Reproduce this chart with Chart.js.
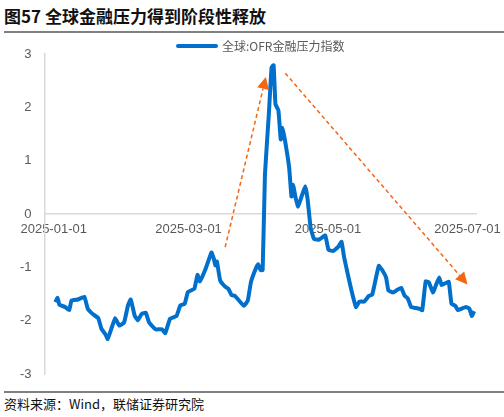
<!DOCTYPE html>
<html><head><meta charset="utf-8">
<script src="https://cdn.jsdelivr.net/npm/chart.js@4"></script>
<style>
body{margin:0;width:504px;height:417px;background:#fff;position:relative;overflow:hidden;font-family:"Noto Sans CJK SC",sans-serif}
#title{position:absolute;left:4px;top:3px;font-size:17px;font-weight:bold;color:#111;letter-spacing:0px}
#l1{position:absolute;left:4px;right:0;top:31px;height:2px;background:#808080}
#l2{position:absolute;left:4px;right:0;top:391px;height:2px;background:#808080}
#src{position:absolute;left:4px;top:394px;font-size:13px;color:#111}
#wrap{position:absolute;left:0;top:34px;width:504px;height:356px}
</style></head><body>
<div id="title">图57 全球金融压力得到阶段性释放</div>
<div id="l1"></div>
<div id="wrap"><canvas id="c"></canvas></div>
<div id="l2"></div>
<div id="src">资料来源：Wind，联储证券研究院</div>
<script>
const seriesName = "全球:OFR金融压力指数";
const days = [0.7,1.7,2.5,5,6.8,7.8,10.6,13.4,14.9,17,19.5,20.9,22.6,23.6,25.2,26.9,28.7,30.8,32.5,33.7,35.4,36.8,38.5,40.3,41.7,43.1,44.6,47.4,48.8,50.9,53.7,55.4,57.3,58.7,61.5,62.9,63.9,66.5,69,70,70.7,71.4,72.8,75,76.4,77.8,79.2,83.2,84.9,86.3,88.4,89.4,90.5,91.4,92.4,94.1,95.3,96.2,97,98.3,99.3,100.1,101.1,103,104,104.7,105.7,106.8,108.2,110,111,112.4,113.9,116,117.4,118.8,120.2,122.3,124.5,125.9,127,128.7,130.4,132.2,133.7,135.8,137.9,139.3,140.3,142.2,144,145.4,146.4,148.5,150.6,152,153.5,154.9,156.3,158.4,159.8,161.2,162.7,164.1,165.9,167.2,168.6,169.7,171.1,172.8,174,175.7,176.8,178.5,180.3,181.8,182.9,183.9];
const values = [-1.65,-1.57,-1.70,-1.74,-1.80,-1.62,-1.60,-1.55,-1.77,-1.87,-1.95,-2.15,-2.25,-2.34,-2.15,-1.95,-2.09,-2.03,-1.71,-1.60,-1.90,-1.99,-1.87,-1.85,-2.03,-2.10,-2.16,-2.16,-2.23,-1.96,-1.91,-1.71,-1.68,-1.46,-1.40,-1.14,-1.26,-1.02,-0.72,-0.83,-0.96,-0.89,-1.24,-1.36,-1.40,-1.52,-1.53,-1.72,-1.62,-1.27,-1.02,-0.94,-1.05,-1.05,0.74,1.87,2.75,2.79,2.06,1.94,1.40,1.62,1.40,0.87,0.33,0.55,0.33,0.14,0.30,0.52,0.30,-0.26,-0.47,-0.48,-0.44,-0.40,-0.67,-0.69,-0.61,-0.52,-0.80,-1.14,-1.46,-1.74,-1.64,-1.64,-1.53,-1.51,-1.33,-0.97,-1.07,-1.19,-1.43,-1.47,-1.41,-1.38,-1.53,-1.58,-1.74,-1.76,-1.77,-1.80,-1.26,-1.28,-1.47,-1.33,-1.19,-1.33,-1.30,-1.27,-1.68,-1.72,-1.80,-1.77,-1.74,-1.77,-1.91,-1.82];
const tickDays = [0,59,120,181];
const tickLabels = ["2025-01-01","2025-03-01","2025-05-01","2025-07-01"];
const arrows = [[75,-0.62,92.8,2.57],[101.3,2.64,181,-1.32]];

const arrowPlugin = {id:'arr', afterDatasetsDraw(ch){
  const {ctx,scales:{x,y}} = ch;
  ctx.save(); ctx.strokeStyle='#F4650F'; ctx.fillStyle='#F4650F'; ctx.lineWidth=1.5;
  arrows.forEach(a=>{
    const x1=x.getPixelForValue(a[0]),y1=y.getPixelForValue(a[1]),x2=x.getPixelForValue(a[2]),y2=y.getPixelForValue(a[3]);
    const ang=Math.atan2(y2-y1,x2-x1), L=12, W=6;
    const bx=x2-L*Math.cos(ang), by=y2-L*Math.sin(ang);
    ctx.setLineDash([4,3]); ctx.beginPath(); ctx.moveTo(x1,y1); ctx.lineTo(bx,by); ctx.stroke();
    ctx.setLineDash([]); ctx.beginPath(); ctx.moveTo(x2,y2);
    ctx.lineTo(bx+W*Math.sin(ang),by-W*Math.cos(ang)); ctx.lineTo(bx-W*Math.sin(ang),by+W*Math.cos(ang)); ctx.closePath(); ctx.fill();
  });
  // legend
  const ds = ch.data.datasets[0];
  ctx.strokeStyle = ds.borderColor; ctx.lineWidth = 4; ctx.lineCap='round';
  ctx.beginPath(); ctx.moveTo(178,12); ctx.lineTo(216,12); ctx.stroke();
  ctx.fillStyle='#595959'; ctx.font='12px "Noto Sans CJK SC"'; ctx.textBaseline='middle';
  ctx.fillText(ds.label,222,12);
  ctx.restore();
}};

new Chart(document.getElementById('c'),{
  type:'line',
  data:{datasets:[{label:seriesName,data:days.map((d,i)=>({x:d,y:values[i]})),borderColor:'#0070CC',backgroundColor:'#0070CC',borderWidth:4,pointRadius:0,tension:0.1}]},
  options:{responsive:true,maintainAspectRatio:false,animation:false,
    layout:{padding:{left:12,right:12,top:20,bottom:12}},
    plugins:{legend:{display:false},tooltip:{enabled:false}},
    scales:{
      x:{type:'linear',min:-4,max:185,position:{y:0},
        afterBuildTicks(s){s.ticks=tickDays.map(v=>({value:v}));},
        ticks:{autoSkip:false,maxRotation:0,color:'#595959',font:{size:13,family:'Liberation Sans'},callback:(v)=>tickLabels[tickDays.indexOf(v)]},
        grid:{display:false,drawTicks:true,tickLength:5,color:'#D9D9D9'},border:{color:'#D9D9D9',width:1.5}},
      y:{min:-3,max:3,ticks:{stepSize:1,color:'#595959',font:{size:13,family:'Liberation Sans'},padding:8},
        grid:{display:false,drawTicks:true,tickLength:5,color:'#D9D9D9'},border:{color:'#D9D9D9',width:1.5}}
    }},
  plugins:[arrowPlugin]
});
</script></body></html>
